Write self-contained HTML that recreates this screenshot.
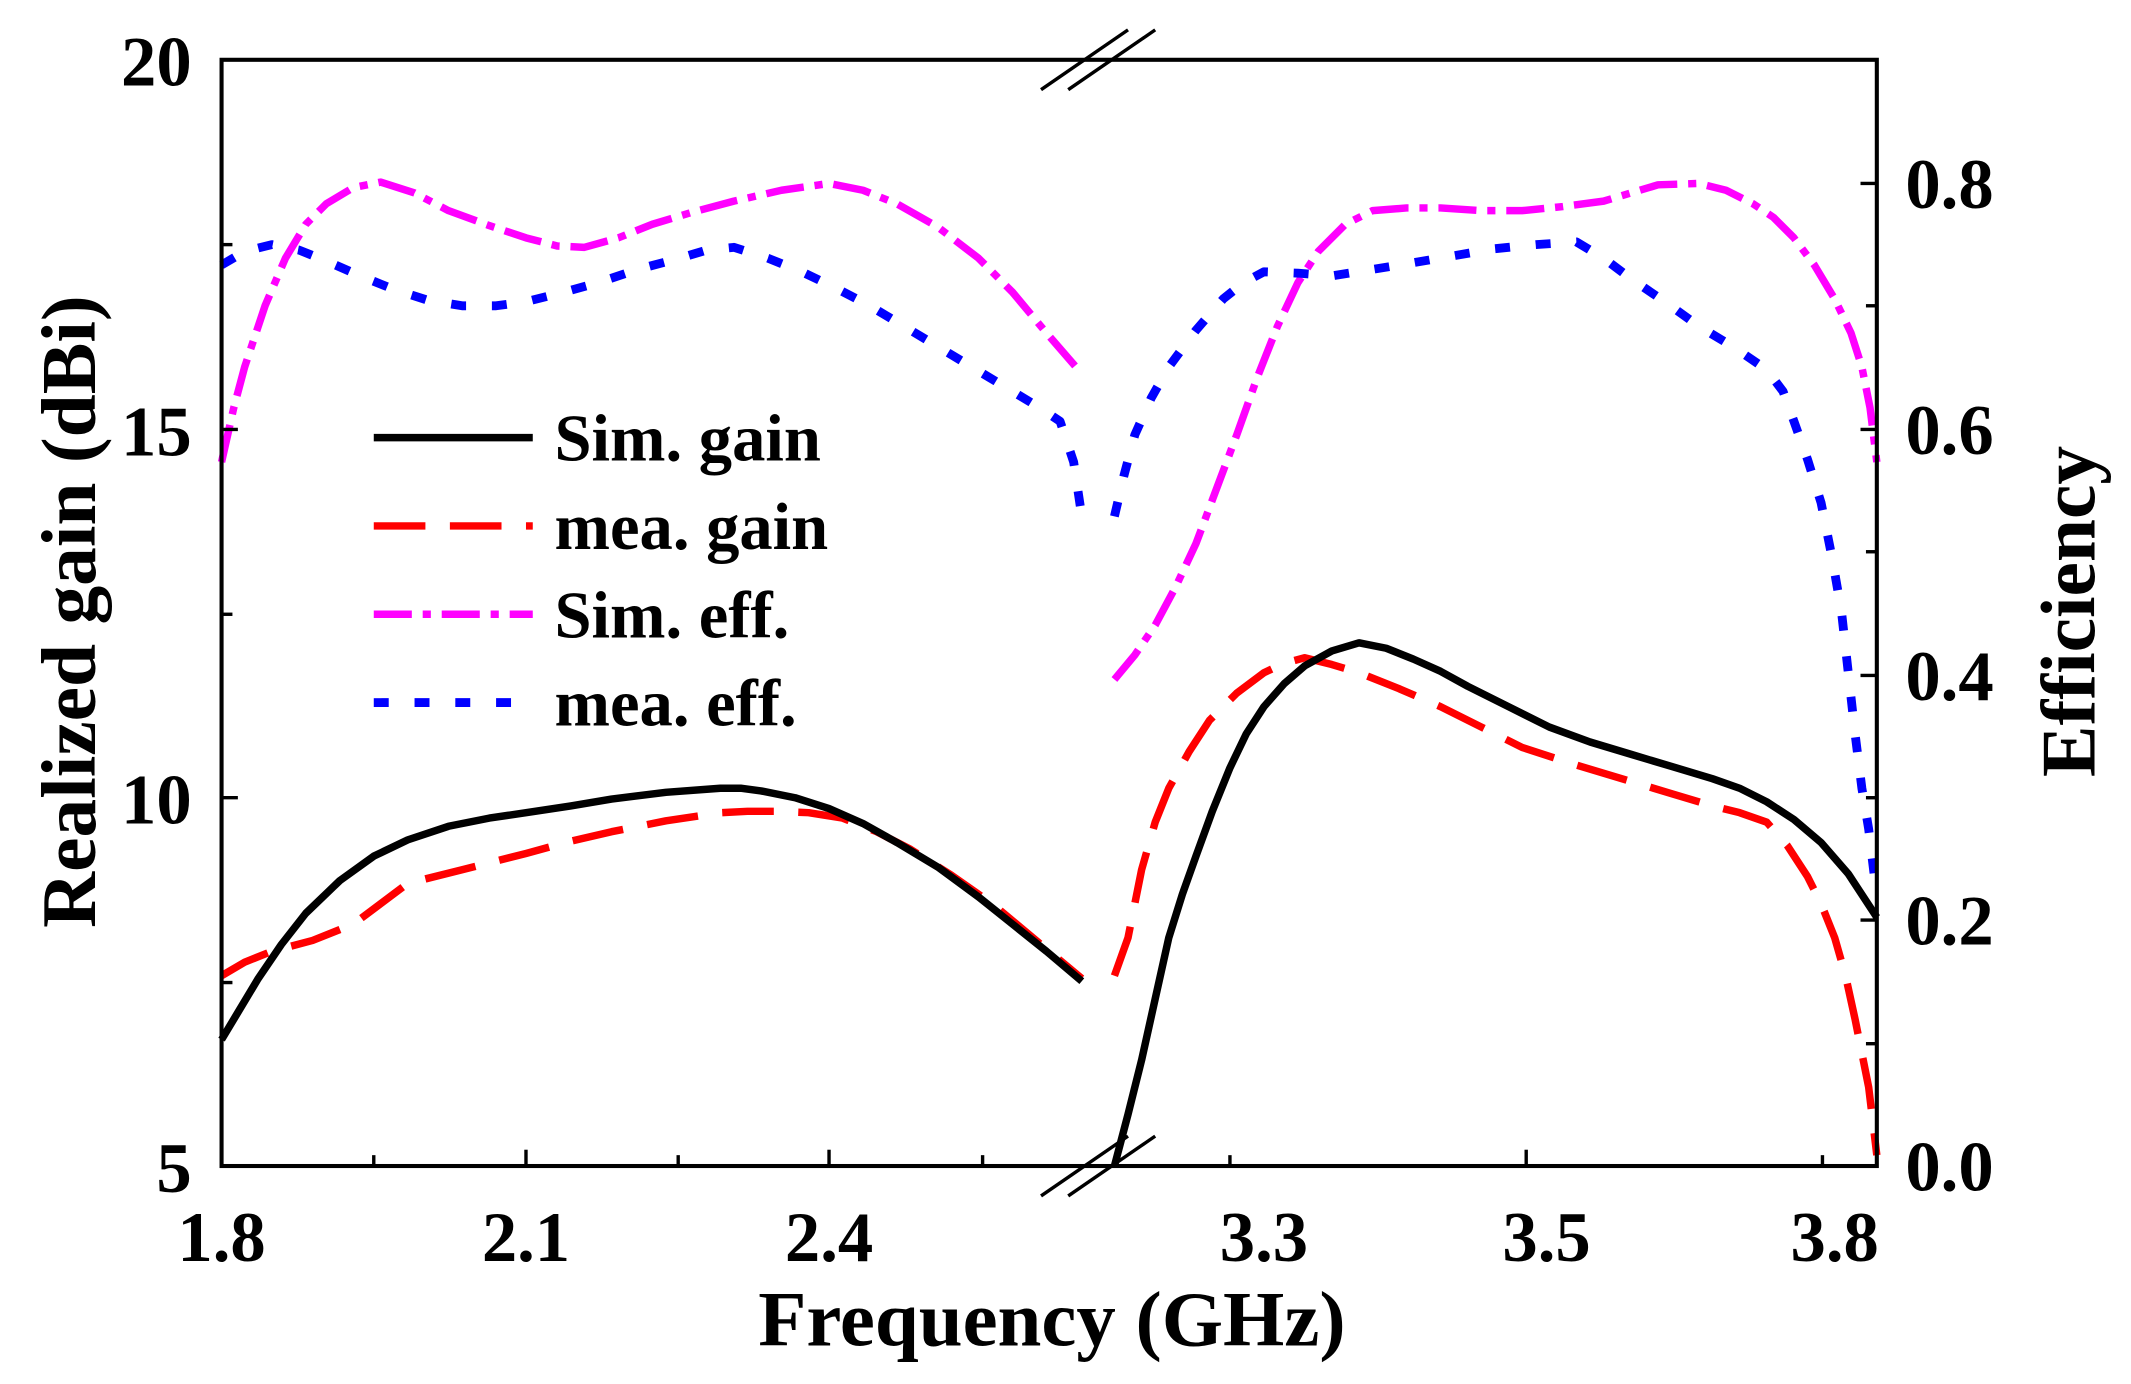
<!DOCTYPE html>
<html><head><meta charset="utf-8"><style>
html,body{margin:0;padding:0;background:#fff;}
svg{display:block;}
text{font-family:"Liberation Serif",serif;font-weight:bold;fill:#000;}
</style></head><body>
<svg width="2131" height="1384" viewBox="0 0 1568 1018.4" xmlns="http://www.w3.org/2000/svg">
<rect width="1568" height="1018.4" fill="#fff"/>
<g fill="none" stroke-linejoin="round">
<polyline stroke="#ff00ff" stroke-width="5.5" stroke-dasharray="28,8,6,8" points="163,340 172,300 180,270 195,225 210,190 225,165 240,150 260,138 280,134 305,142 330,155 360,166 387,175 410,181 430,182 455,175 480,165 510,156 540,148 575,140 610,135 635,140 660,150 690,167 720,190 745,215 770,245 796,275"/>
<polyline stroke="#ff00ff" stroke-width="5.5" stroke-dasharray="28,8,6,8" points="820,500 835,482 850,460 865,432 880,400 895,360 910,320 925,278 940,240 955,208 970,185 990,165 1010,155 1035,153 1060,153 1090,155 1120,155 1150,152 1180,148 1200,142 1220,136 1250,135 1270,140 1290,150 1305,160 1320,175 1335,195 1350,220 1362,245 1370,270 1376,300 1381,340"/>
<polyline stroke="#0000ff" stroke-width="6.5" stroke-dasharray="11,19" points="163,195 180,185 200,180 220,184 240,192 265,203 290,213 315,221 340,225 365,225 387,222 415,215 440,208 470,198 500,190 520,184 540,182 565,190 590,200 615,212 640,225 665,240 690,255 715,270 740,285 765,300 780,310 790,340 796,380"/>
<polyline stroke="#0000ff" stroke-width="6.5" stroke-dasharray="11,19" points="820,380 827,350 835,320 847,293 860,270 880,243 900,220 915,208 930,200 955,201 980,203 1005,199 1030,195 1065,189 1100,183 1130,180 1160,178 1180,190 1200,205 1225,222 1250,240 1275,255 1300,272 1312,288 1320,310 1330,338 1340,370 1348,410 1355,450 1360,495 1365,540 1370,580 1375,610 1381,660"/>
<polyline stroke="#ff0000" stroke-width="5.5" stroke-dasharray="38,18" points="163,718 180,708 200,700 230,692 260,680 280,665 300,650 340,640 387,628 420,619 450,612 490,604 530,598 550,597 570,597 595,598 620,602 645,612 670,625 700,644 730,665 760,690 796,720"/>
<polyline stroke="#ff0000" stroke-width="5.5" stroke-dasharray="38,18" points="820,718 830,690 840,640 850,605 860,580 875,553 890,530 910,510 930,495 945,488 960,484 980,489 1000,495 1030,507 1060,520 1090,535 1120,550 1160,563 1200,575 1230,584 1260,593 1280,598 1300,605 1315,622 1330,645 1340,665 1350,690 1358,718 1365,750 1370,775 1375,800 1378,825 1381,850"/>
<polyline stroke="#000" stroke-width="5.5" points="163,765 175,745 190,720 207,695 225,672 250,648 275,630 300,618 330,608 360,602 387,598 420,593 450,588 490,583 530,580 545,580 560,582 585,587 610,595 635,606 660,620 690,638 720,660 745,680 770,700 796,722"/>
<polyline stroke="#000" stroke-width="5.5" points="820,858 830,820 840,780 850,735 860,690 870,658 880,630 892,597 905,565 917,540 930,520 945,503 960,490 980,479 1000,473 1020,477 1040,485 1060,494 1080,505 1110,520 1140,535 1170,546 1200,555 1230,564 1260,573 1280,580 1300,590 1320,603 1340,620 1360,643 1381,675"/>
</g>
<rect x="163" y="44" width="1218" height="814" fill="none" stroke="#000" stroke-width="3"/>
<g stroke="#000" stroke-width="2.5">
<line x1="163" y1="316" x2="175" y2="316"/><line x1="163" y1="587" x2="175" y2="587"/>
<line x1="163" y1="180" x2="171" y2="180"/><line x1="163" y1="452" x2="171" y2="452"/><line x1="163" y1="723" x2="171" y2="723"/>
<line x1="1381" y1="135" x2="1369" y2="135"/><line x1="1381" y1="316" x2="1369" y2="316"/><line x1="1381" y1="497" x2="1369" y2="497"/><line x1="1381" y1="677" x2="1369" y2="677"/>
<line x1="1381" y1="225" x2="1373" y2="225"/><line x1="1381" y1="406" x2="1373" y2="406"/><line x1="1381" y1="587" x2="1373" y2="587"/><line x1="1381" y1="768" x2="1373" y2="768"/>
<line x1="387" y1="858" x2="387" y2="846"/><line x1="610" y1="858" x2="610" y2="846"/>
<line x1="275" y1="858" x2="275" y2="850"/><line x1="499" y1="858" x2="499" y2="850"/><line x1="723" y1="858" x2="723" y2="850"/>
<line x1="905" y1="858" x2="905" y2="850"/><line x1="1123" y1="858" x2="1123" y2="846"/><line x1="1341" y1="858" x2="1341" y2="850"/>
<line x1="766" y1="66" x2="830" y2="22"/><line x1="786" y1="66" x2="850" y2="22"/>
<line x1="766" y1="880" x2="830" y2="836"/><line x1="786" y1="880" x2="850" y2="836"/>
</g>
<g font-size="52" text-anchor="end">
<text x="141" y="63">20</text><text x="141" y="335">15</text><text x="141" y="606">10</text><text x="141" y="877">5</text>
</g>
<g font-size="52" text-anchor="start">
<text x="1402" y="153">0.8</text><text x="1402" y="334">0.6</text><text x="1402" y="515">0.4</text><text x="1402" y="695">0.2</text><text x="1402" y="876">0.0</text>
</g>
<g font-size="52" text-anchor="middle">
<text x="163" y="928">1.8</text><text x="387" y="928">2.1</text><text x="610" y="928">2.4</text>
<text x="930" y="928">3.3</text><text x="1138" y="928">3.5</text><text x="1350" y="928">3.8</text>
</g>
<text x="774" y="990" font-size="58" text-anchor="middle">Frequency (GHz)</text>
<text transform="translate(70,450) rotate(-90)" font-size="57" text-anchor="middle">Realized gain (dBi)</text>
<text transform="translate(1541,450) rotate(-90)" font-size="57" text-anchor="middle">Efficiency</text>
<g fill="none">
<line x1="275" y1="322" x2="392" y2="322" stroke="#000" stroke-width="5.5"/>
<line x1="275" y1="387" x2="392" y2="387" stroke="#ff0000" stroke-width="5.5" stroke-dasharray="38,18"/>
<line x1="275" y1="452" x2="392" y2="452" stroke="#ff00ff" stroke-width="5.5" stroke-dasharray="28,8,6,8"/>
<line x1="275" y1="517" x2="392" y2="517" stroke="#0000ff" stroke-width="6.5" stroke-dasharray="11,19"/>
</g>
<g font-size="49">
<text x="408" y="339">Sim. gain</text><text x="408" y="404">mea. gain</text>
<text x="408" y="469">Sim. eff.</text><text x="408" y="534">mea. eff.</text>
</g>
</svg>
</body></html>
